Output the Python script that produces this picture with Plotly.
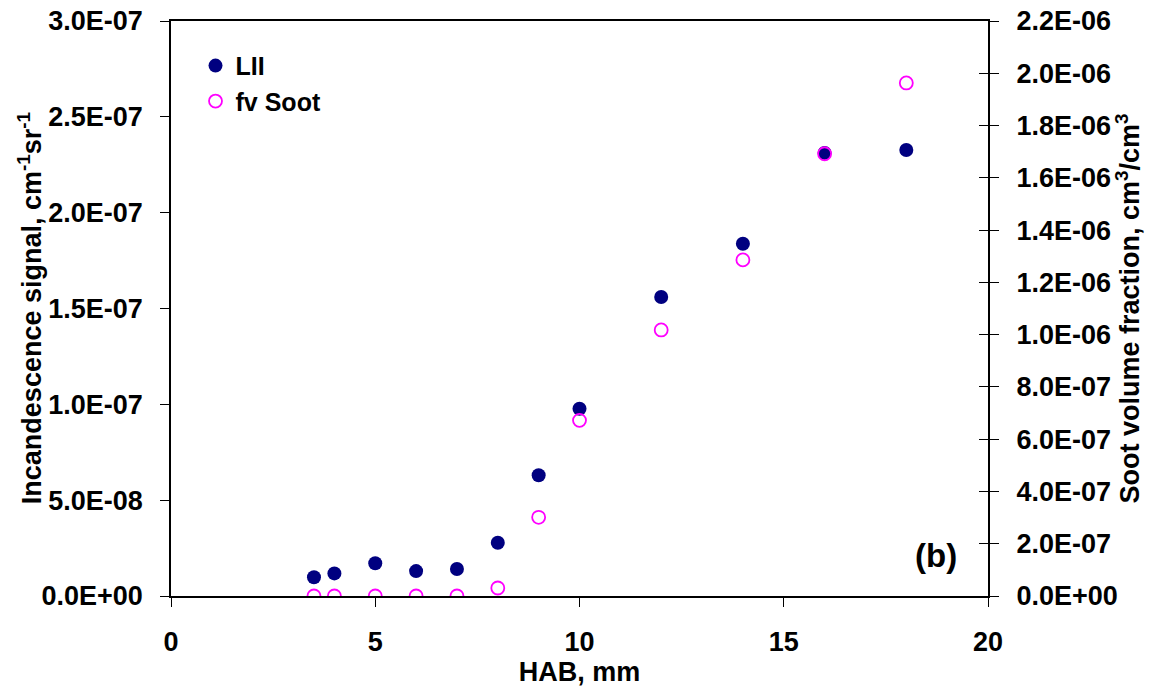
import plotly.graph_objects as go

hab = [3.5, 4, 5, 6, 7, 8, 9, 10, 12, 14, 16, 18]
lii = [9.8e-9, 1.18e-8, 1.71e-8, 1.30e-8, 1.41e-8, 2.78e-8, 6.30e-8, 9.77e-8, 1.56e-7, 1.838e-7, 2.311e-7, 2.327e-7]
fv_soot = [0, 0, 0, 0, 0, 3.06e-8, 3.01e-7, 6.72e-7, 1.018e-6, 1.286e-6, 1.692e-6, 1.963e-6]

left_tickvals = [0, 5e-8, 1e-7, 1.5e-7, 2e-7, 2.5e-7, 3e-7]
left_ticktext = ["0.0E+00", "5.0E-08", "1.0E-07", "1.5E-07", "2.0E-07", "2.5E-07", "3.0E-07"]
right_tickvals = [0, 2e-7, 4e-7, 6e-7, 8e-7, 1e-6, 1.2e-6, 1.4e-6, 1.6e-6, 1.8e-6, 2.0e-6, 2.2e-6]
right_ticktext = ["0.0E+00", "2.0E-07", "4.0E-07", "6.0E-07", "8.0E-07", "1.0E-06",
                  "1.2E-06", "1.4E-06", "1.6E-06", "1.8E-06", "2.0E-06", "2.2E-06"]

FONT = "Liberation Sans, Arial, sans-serif"
TF = dict(family=FONT, size=27, color="black", weight="bold")

fig = go.Figure()
fig.add_trace(go.Scatter(x=hab, y=lii, mode="markers", name="LII",
                         marker=dict(symbol="circle", size=14, color="#000080",
                                     line=dict(width=0)), yaxis="y"))
fig.add_trace(go.Scatter(x=hab, y=fv_soot, mode="markers", name="fv Soot",
                         marker=dict(symbol="circle-open", size=13, color="#FF00FF",
                                     line=dict(width=1.8, color="#FF00FF")), yaxis="y2"))
# invisible trace to carry the inner tick marks of the right axis
fig.add_trace(go.Scatter(x=[hab[0]], y=[fv_soot[0]], mode="markers", showlegend=False,
                         marker=dict(size=1, opacity=0), hoverinfo="skip", yaxis="y3"))

fig.update_layout(
    width=1154, height=689,
    margin=dict(l=171, r=166, t=21, b=93),
    paper_bgcolor="white", plot_bgcolor="white",
    showlegend=True,
    legend=dict(x=0.03, y=0.962, xanchor="left", yanchor="top",
                font=dict(family=FONT, size=25, color="black", weight="bold"),
                bgcolor="rgba(0,0,0,0)", itemsizing="trace", tracegroupgap=6),
    xaxis=dict(range=[0, 20], tickvals=[0, 5, 10, 15, 20], ticktext=["0", "5", "10", "15", "20"],
               showline=True, linecolor="black", linewidth=2, mirror=True,
               ticks="outside", ticklen=9, tickwidth=1, tickcolor="black", automargin=False,
               showgrid=False, zeroline=False, tickfont=TF, ticklabelstandoff=12,
               title=dict(text="HAB, mm", font=TF, standoff=3)),
    yaxis=dict(range=[0, 3e-7], tickvals=left_tickvals, ticktext=left_ticktext,
               showline=True, linecolor="black", linewidth=1.5, automargin=False,
               ticks="outside", ticklen=9, tickwidth=1, tickcolor="black",
               showgrid=False, zeroline=False, tickfont=TF, ticklabelstandoff=12),
    yaxis2=dict(range=[0, 2.2e-6], tickvals=right_tickvals, ticktext=right_ticktext,
                overlaying="y", side="right", anchor="x", automargin=False,
                showline=True, linecolor="black", linewidth=2,
                ticks="outside", ticklen=9, tickwidth=1, tickcolor="black",
                showgrid=False, zeroline=False, tickfont=TF, ticklabelstandoff=12,
                title=dict(text="Soot volume fraction, cm<sup>3</sup>/cm<sup>3</sup>", font=TF, standoff=2)),
    yaxis3=dict(range=[0, 2.2e-6], tickvals=right_tickvals, overlaying="y", side="right", anchor="x",
                showline=False, ticks="inside", ticklen=9, tickwidth=1, tickcolor="black",
                automargin=False, showticklabels=False, showgrid=False, zeroline=False),
    annotations=[
        dict(text="(b)", x=0.965, y=0.07, xref="paper", yref="paper",
             xanchor="right", yanchor="middle", showarrow=False,
             font=dict(family=FONT, size=33, color="black", weight="bold")),
        dict(text="Incandescence signal, cm<sup>-1</sup>sr<sup>-1</sup>", textangle=-90,
             x=-0.173, y=0.5, xref="paper", yref="paper",
             xanchor="center", yanchor="middle", showarrow=False, font=TF),
    ],
)

fig.write_html("out.html")
